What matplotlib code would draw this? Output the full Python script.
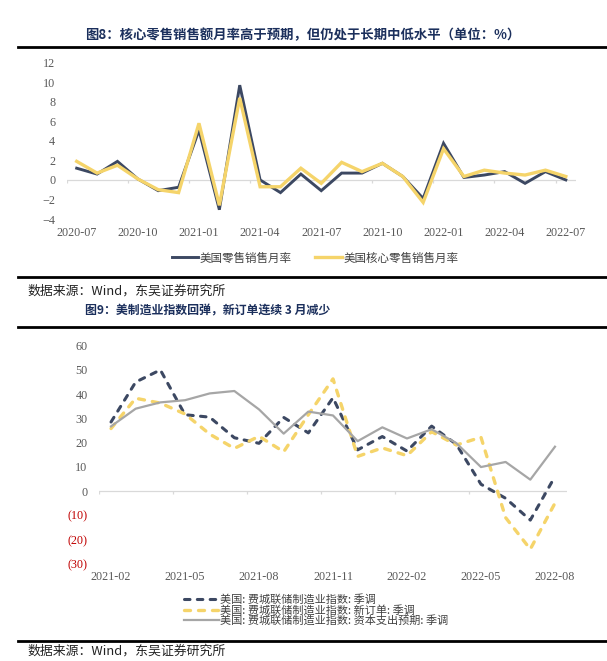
import numpy as np
import pandas as pd
import matplotlib
matplotlib.use('Agg')
import matplotlib.pyplot as plt
from matplotlib.lines import Line2D

plt.rcParams['font.family'] = ['Noto Sans CJK SC', 'DejaVu Sans']

# ---- data: figure 8 (monthly retail sales, %) ----
months1 = pd.date_range('2020-07-01', '2022-07-01', freq='MS').strftime('%Y-%m').tolist()
retail = [1.2, 0.6, 1.9, 0.1, -1.1, -0.75, 5.1, -3.05, 9.7, 0.0, -1.3, 0.6, -1.1,
          0.7, 0.7, 1.7, 0.35, -1.9, 3.75, 0.25, 0.5, 0.85, -0.35, 0.85, 0.0]
core = [1.9, 0.7, 1.5, 0.1, -1.0, -1.3, 5.8, -2.6, 8.4, -0.7, -0.7, 1.2, -0.35,
        1.8, 0.85, 1.7, 0.35, -2.3, 3.2, 0.35, 1.0, 0.7, 0.5, 1.0, 0.35]
names1 = ['美国零售销售月率', '美国核心零售销售月率']

# ---- data: figure 9 (Philly Fed manufacturing) ----
months2 = pd.date_range('2021-02-01', '2022-08-01', freq='MS').strftime('%Y-%m').tolist()
philly = [28.5, 45, 50, 31.5, 30.5, 22, 19.7, 30.4, 24, 38.5, 17, 22.5, 16.5,
          26.8, 19.3, 2.8, -3.0, -12, 6]
neworders = [25.8, 38.3, 36.3, 31.8, 23.5, 17.6, 22.6, 16.2, 31.5, 46.3, 14.3,
             17.8, 14.6, 24.5, 19.0, 22.2, -11, -24, -5]
capex = [26.7, 34, 36.6, 37.5, 40.3, 41.3, 33.7, 23.7, 32.8, 31.2, 20.6, 26.3,
         21.7, 25.5, 19.8, 9.9, 12, 4.7, 18.3]
names2 = ['美国: 费城联储制造业指数: 季调',
          '美国: 费城联储制造业指数: 新订单: 季调',
          '美国: 费城联储制造业指数: 资本支出预期: 季调']

navy = '#3C4862'
yellow = '#F5D46A'
grey = '#A6A6A6'
title_c = '#1B2F5C'
tick_c = '#595959'
serif = 'Liberation Serif'

W, H = 607, 661
fig = plt.figure(figsize=(W / 100, H / 100), dpi=100)


def fx(px):
    return px / W


def fy(py):
    return 1 - py / H


# horizontal rules and captions
for y in [47.3, 277.3, 326.7, 640.7]:
    fig.add_artist(Line2D([fx(18), 1], [fy(y), fy(y)], color='black', lw=2.0))

fig.text(fx(85), fy(35), '图8：核心零售销售额月率高于预期，但仍处于长期中低水平（单位：%）',
         color=title_c, fontsize=9.6, fontweight='bold', va='center', ha='left')
fig.text(fx(85), fy(311), '图9：美制造业指数回弹，新订单连续 3 月减少',
         color=title_c, fontsize=8.6, fontweight='bold', va='center', ha='left')
for y in [291, 651]:
    fig.text(fx(27), fy(y), '数据来源：Wind，东吴证券研究所', color='#222222',
             fontsize=9.3, va='center', ha='left')

# ---- chart 1 ----
ax1 = fig.add_axes([fx(66.5), fy(219), fx(576 - 66.5), (219 - 62.7) / H])
x1 = np.arange(len(months1))
ax1.plot(x1, retail, color=navy, lw=2.1, label=names1[0], solid_joinstyle='miter')
ax1.plot(x1, core, color=yellow, lw=2.4, label=names1[1], solid_joinstyle='miter')
ax1.axhline(0, color='#D9D9D9', lw=0.9, zorder=0)
ax1.vlines(x1[::3] - 0.5, 0, -0.3, color='#D9D9D9', lw=0.9, zorder=0)
ax1.set_xlim(-0.5, len(months1) - 0.5)
ax1.set_ylim(-4, 12)
ax1.set_yticks(np.arange(-4, 13, 2))
ax1.set_xticks(x1[::3])
ax1.set_xticklabels(months1[::3])
for s in ax1.spines.values():
    s.set_visible(False)
ax1.tick_params(axis='both', length=0, labelcolor=tick_c, labelsize=8.7)
ax1.tick_params(axis='y', pad=8)
ax1.tick_params(axis='x', pad=6)
for lab in ax1.get_xticklabels() + ax1.get_yticklabels():
    lab.set_fontfamily(serif)

fig.legend(handles=ax1.get_lines()[:2], labels=names1, loc='center',
           bbox_to_anchor=(fx(315), fy(258)), ncol=2, frameon=False,
           fontsize=8.3, handlelength=2.3, handletextpad=0.15, columnspacing=2.0,
           labelcolor='#404040')

# ---- chart 2 ----
ax2 = fig.add_axes([fx(98.7), fy(563.7), fx(567.3 - 98.7), (563.7 - 345.7) / H])
x2 = np.arange(len(months2))
l1, = ax2.plot(x2, philly, color=navy, lw=2.2, ls=(0, (1.8, 2.4)),
               dash_capstyle='round', dash_joinstyle='round')
l2, = ax2.plot(x2, neworders, color=yellow, lw=2.4, ls=(0, (1.8, 2.4)),
               dash_capstyle='round', dash_joinstyle='round')
l3, = ax2.plot(x2, capex, color=grey, lw=1.6)
ax2.axhline(0, color='#D9D9D9', lw=0.9, zorder=0)
ax2.vlines(x2[::3] - 0.5, 0, -1.4, color='#D9D9D9', lw=0.9, zorder=0)
ax2.set_xlim(-0.5, len(months2) - 0.5)
ax2.set_ylim(-30, 60)
yt = np.arange(-30, 61, 10)
ax2.set_yticks(yt)
ax2.set_yticklabels([f'({-v})' if v < 0 else f'{v}' for v in yt])
ax2.set_xticks(x2[::3])
ax2.set_xticklabels(months2[::3])
for s in ax2.spines.values():
    s.set_visible(False)
ax2.tick_params(axis='both', length=0, labelcolor=tick_c, labelsize=8.7)
ax2.tick_params(axis='y', pad=8)
ax2.tick_params(axis='x', pad=5)
for lab, v in zip(ax2.get_yticklabels(), yt):
    lab.set_fontfamily(serif)
    if v < 0:
        lab.set_color('#C00000')
for lab in ax2.get_xticklabels():
    lab.set_fontfamily(serif)

fig.legend(handles=[l1, l2, l3], labels=names2, loc='center',
           bbox_to_anchor=(fx(316), fy(610)), ncol=1, frameon=False,
           fontsize=8.0, handlelength=3.2, handletextpad=0.1, labelspacing=0.0,
           labelcolor='#404040', borderpad=0.0)

fig.savefig('out.png', dpi=100)
